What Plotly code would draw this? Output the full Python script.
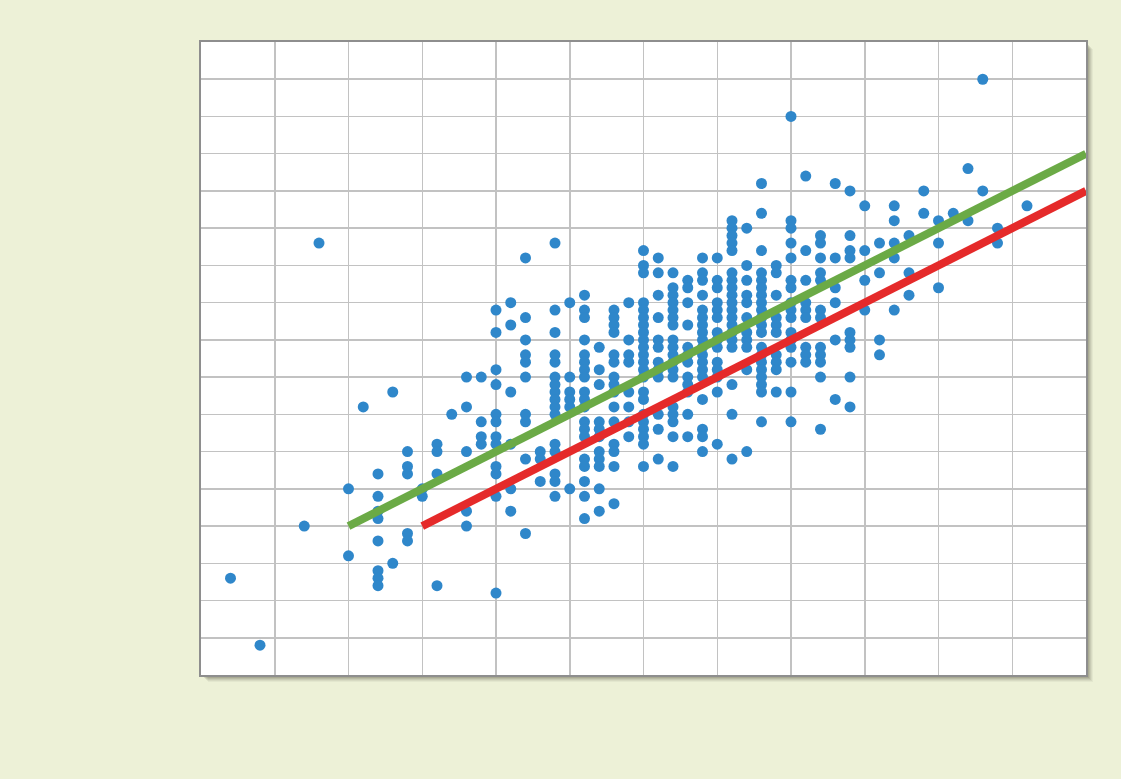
import plotly.graph_objects as go

# Scatter data: column index k (x = k*0.2) with row indices j (y = j*0.2)
col_k = [2, 4, 7, 8, 10, 11, 12, 13, 14, 15, 16, 17, 18, 19, 20, 21, 22, 23, 24, 25,
         26, 27, 28, 29, 30, 31, 32, 33, 34, 35, 36, 37, 38, 39, 40, 41, 42, 43, 44, 45,
         46, 47, 48, 49, 50, 51, 52, 53, 54, 56]
col_rows = [
    [13],
    [4],
    [20],
    [58],
    [25, 16],
    [36],
    [27, 24, 22, 21, 18, 14, 13, 12],
    [38, 15],
    [30, 28, 27, 19, 18],
    [25, 24],
    [31, 30, 27, 12],
    [35],
    [40, 36, 30, 22, 20],
    [40, 34, 32, 31],
    [49, 46, 41, 39, 35, 34, 32, 31, 28, 27, 24, 11],
    [50, 47, 38, 31, 25, 22],
    [56, 48, 45, 43, 42, 40, 35, 34, 29, 19],
    [30, 29, 26],
    [58, 49, 46, 43, 42, 40, 39, 38, 37, 36, 35, 31, 30, 27, 26, 24],
    [50, 40, 38, 37, 36, 25],
    [51, 49, 48, 45, 43, 42, 41, 40, 38, 37, 36, 34, 33, 32, 29, 28, 26, 24, 21],
    [44, 41, 39, 34, 33, 32, 30, 29, 28, 25, 22],
    [49, 48, 47, 46, 43, 42, 40, 39, 38, 36, 34, 31, 30, 28, 23],
    [50, 45, 43, 42, 38, 36, 34, 32],
    [57, 55, 54, 50, 49, 48, 47, 46, 45, 44, 43, 42, 41, 40, 38, 37, 35, 34, 33, 32, 31, 28],
    [56, 54, 51, 48, 45, 44, 42, 41, 40, 35, 33, 29],
    [54, 52, 51, 50, 49, 48, 47, 45, 44, 43, 42, 41, 40, 36, 35, 34, 32, 28],
    [53, 52, 50, 47, 44, 43, 42, 40, 39, 38, 35, 32],
    [56, 54, 53, 51, 49, 48, 47, 46, 45, 44, 43, 42, 41, 40, 37, 33, 32, 30],
    [56, 53, 52, 50, 49, 48, 46, 45, 44, 42, 41, 40, 38, 31],
    [61, 60, 59, 58, 57, 54, 53, 52, 51, 50, 49, 48, 47, 46, 45, 44, 39, 35, 29],
    [60, 55, 53, 51, 50, 48, 46, 45, 44, 41, 30],
    [66, 62, 57, 54, 53, 52, 51, 50, 49, 48, 47, 46, 44, 43, 42, 41, 40, 39, 38, 34],
    [55, 54, 51, 48, 47, 46, 43, 42, 41, 38],
    [75, 61, 60, 58, 56, 53, 52, 50, 49, 48, 46, 45, 44, 42, 38, 34],
    [67, 57, 53, 50, 49, 48, 44, 43, 42],
    [59, 58, 56, 54, 53, 49, 48, 44, 43, 42, 40, 33],
    [66, 56, 52, 50, 45, 37],
    [65, 59, 57, 56, 46, 45, 44, 40, 36],
    [63, 57, 53, 49],
    [58, 54, 45, 43],
    [63, 61, 58, 56, 49],
    [59, 54, 51],
    [65, 62],
    [61, 58, 52],
    [62],
    [68, 61],
    [80, 65],
    [60, 58],
    [63],
]
step = 0.2

# Trend lines (endpoints in axis units)
green_x = [2, 12]
green_y = [4, 14]
red_x = [3, 12]
red_y = [4, 13]

xs, ys = [], []
for k, rows in zip(col_k, col_rows):
    for j in rows:
        xs.append(round(k * step, 2))
        ys.append(round(j * step, 2))

fig = go.Figure()
fig.add_trace(go.Scatter(x=xs, y=ys, mode="markers",
                         marker=dict(size=11, color="#2F87CA", line=dict(width=0)),
                         showlegend=False, hoverinfo="skip"))
fig.add_trace(go.Scatter(x=green_x, y=green_y, mode="lines",
                         line=dict(color="#6BAA46", width=8), showlegend=False))
fig.add_trace(go.Scatter(x=red_x, y=red_y, mode="lines",
                         line=dict(color="#E52A2A", width=8), showlegend=False))

W, H = 1121, 779
ml, mr, mt, mb = 201, 35, 42, 104
pw, ph = W - ml - mr, H - mt - mb
shapes = []
for off, op in [(7, 0.05), (6, 0.07), (5, 0.09), (4, 0.11), (3, 0.13)]:
    dx, dy = off / pw, off / ph
    shapes.append(dict(type="rect", xref="paper", yref="paper",
                       x0=dx, x1=1 + dx, y0=-dy, y1=1 - dy,
                       fillcolor=f"rgba(60,60,40,{op})", line=dict(width=0), layer="below"))
shapes.append(dict(type="rect", xref="paper", yref="paper", x0=0, x1=1, y0=0, y1=1,
                   fillcolor="white", line=dict(width=0), layer="below"))
fig.update_layout(shapes=shapes)

axis_common = dict(showticklabels=False, ticks="", showgrid=True, gridcolor="#C2C2C2",
                   gridwidth=1.5, zeroline=False, showline=True, linecolor="#8E8E8E",
                   linewidth=2, mirror=True, dtick=1, fixedrange=True)
fig.update_xaxes(range=[0, 12], tick0=0, **axis_common)
fig.update_yaxes(range=[0, 17], tick0=0, **axis_common)

fig.update_layout(width=W, height=H,
                  margin=dict(l=ml, r=mr, t=mt, b=mb, pad=0),
                  paper_bgcolor="#EDF1D7", plot_bgcolor="rgba(0,0,0,0)",
                  showlegend=False)

fig.write_html("out.html",
               config={"displayModeBar": False, "staticPlot": True},
               post_script="document.body.style.margin='0';document.body.style.overflow='hidden';")
